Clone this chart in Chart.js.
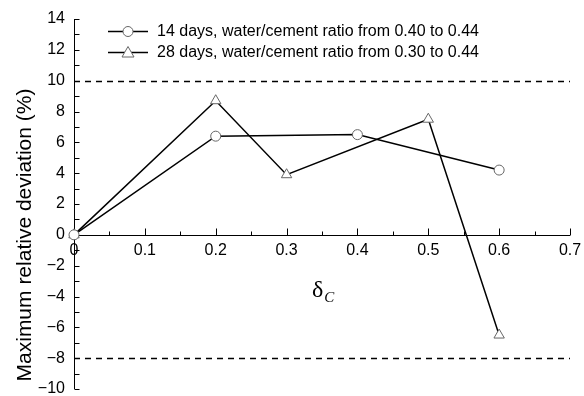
<!DOCTYPE html>
<html>
<head>
<meta charset="utf-8">
<script src="https://cdn.jsdelivr.net/npm/chart.js@4/dist/chart.umd.min.js"></script>
<style>
  html, body { margin: 0; padding: 0; background: #fff; }
  #wrap { width: 584px; height: 396px; }
</style>
</head>
<body>
<div id="wrap"><canvas id="c" width="584" height="396"></canvas></div>
<script>
// Relative deviation vs. delta_C for two curing ages
const series14Label = '14 days, water/cement ratio from 0.40 to 0.44';
const series14X = [0, 0.2, 0.4, 0.6];
const series14Y = [0, 6.4, 6.5, 4.2];

const series28Label = '28 days, water/cement ratio from 0.30 to 0.44';
const series28X = [0, 0.2, 0.3, 0.5, 0.6];
const series28Y = [0, 8.7, 3.9, 7.5, -6.5];

// Allowed deviation limits (dashed reference lines)
const limitValues = [10, -8];

const yTitle = 'Maximum relative deviation (%)';
const FONT = '"Liberation Sans", Arial, sans-serif';
const SERIF = '"Liberation Serif", "Times New Roman", serif';

const toPoints = (xs, ys) => xs.map((x, i) => ({ x: x, y: ys[i] }));

// Axes keep no extra margins; the plot box is set by layout padding
function noPadding(s) {
  s.paddingLeft = 0;
  s.paddingRight = 0;
  s.paddingTop = 0;
  s.paddingBottom = 0;
}

// Axes with inward ticks, x-axis through y = 0, limit lines, titles, legend
const decor = {
  id: 'decor',
  beforeDatasetsDraw(chart) {
    const { ctx, chartArea: a, scales: { x, y } } = chart;
    ctx.save();
    ctx.strokeStyle = '#000';
    ctx.lineWidth = 1.5;
    ctx.setLineDash([6, 5]);
    limitValues.forEach(v => {
      const py = Math.round(y.getPixelForValue(v)) + 0.5;
      ctx.beginPath();
      ctx.moveTo(a.left, py);
      ctx.lineTo(a.right, py);
      ctx.stroke();
    });
    ctx.setLineDash([]);

    // left axis
    ctx.lineWidth = 1;
    const lx = Math.round(a.left) + 0.5;
    ctx.beginPath();
    ctx.moveTo(lx, a.top);
    ctx.lineTo(lx, a.bottom);
    for (let v = y.min; v <= y.max; v += 1) {
      const py = Math.round(y.getPixelForValue(v)) + 0.5;
      ctx.moveTo(lx, py);
      ctx.lineTo(lx + 5, py);
    }
    ctx.stroke();

    // horizontal axis at zero
    const zy = Math.round(y.getPixelForValue(0)) + 0.5;
    ctx.beginPath();
    ctx.moveTo(a.left, zy);
    ctx.lineTo(a.right, zy);
    for (let i = 0; i <= 14; i++) {
      const px = Math.round(x.getPixelForValue(i * 0.05)) + 0.5;
      ctx.moveTo(px, zy);
      ctx.lineTo(px, zy - (i % 2 === 0 ? 7 : 4));
    }
    ctx.stroke();

    // y title
    ctx.fillStyle = '#000';
    ctx.font = '21px ' + FONT;
    ctx.textAlign = 'center';
    ctx.textBaseline = 'middle';
    ctx.save();
    ctx.translate(25, 235);
    ctx.rotate(-Math.PI / 2);
    ctx.fillText(yTitle, 0, 0);
    ctx.restore();

    // x title: delta with italic subscript C
    ctx.textAlign = 'left';
    ctx.textBaseline = 'alphabetic';
    ctx.font = '24px ' + SERIF;
    ctx.fillText('\u03b4', 312, 297);
    const dw = ctx.measureText('\u03b4').width;
    ctx.font = 'italic 15px ' + SERIF;
    ctx.fillText('C', 312 + dw + 1, 302);
    ctx.restore();
  },
  afterDraw(chart) {
    const { ctx } = chart;
    ctx.save();
    const rows = [31, 52];
    chart.data.datasets.forEach((ds, i) => {
      const yy = rows[i] + 0.5;
      ctx.strokeStyle = '#000';
      ctx.lineWidth = 1.5;
      ctx.beginPath();
      ctx.moveTo(108, yy);
      ctx.lineTo(148, yy);
      ctx.stroke();
      ctx.fillStyle = '#fff';
      ctx.strokeStyle = ds.pointBorderColor;
      ctx.lineWidth = 1;
      ctx.beginPath();
      if (ds.pointStyle === 'circle') {
        ctx.arc(128, yy, 5, 0, Math.PI * 2);
      } else {
        ctx.moveTo(128, yy - 6);
        ctx.lineTo(134, yy + 4.5);
        ctx.lineTo(122, yy + 4.5);
        ctx.closePath();
      }
      ctx.fill();
      ctx.stroke();
      ctx.fillStyle = '#000';
      ctx.font = '16px ' + FONT;
      ctx.textBaseline = 'middle';
      ctx.textAlign = 'left';
      ctx.fillText(ds.label, 157, yy);
    });
    ctx.restore();
  }
};

new Chart(document.getElementById('c'), {
  type: 'line',
  data: {
    datasets: [
      {
        label: series14Label,
        data: toPoints(series14X, series14Y),
        borderColor: '#000',
        borderWidth: 1.5,
        pointStyle: 'circle',
        pointRadius: 5,
        pointBorderWidth: 1,
        pointBorderColor: '#666',
        pointBackgroundColor: '#fff',
        tension: 0,
        clip: false
      },
      {
        label: series28Label,
        data: toPoints(series28X, series28Y),
        borderColor: '#000',
        borderWidth: 1.5,
        pointStyle: 'triangle',
        pointRadius: 6,
        pointBorderWidth: 1,
        pointBorderColor: '#666',
        pointBackgroundColor: '#fff',
        tension: 0,
        clip: false
      }
    ]
  },
  options: {
    responsive: false,
    animation: false,
    layout: { padding: { top: 19, right: 14, bottom: 5, left: 0 } },
    plugins: { legend: { display: false }, tooltip: { enabled: false } },
    scales: {
      x: {
        type: 'linear',
        position: { y: 0 },
        min: 0,
        max: 0.7,
        grid: { display: false, drawTicks: false },
        border: { display: false },
        afterFit: s => { s.height = 0; noPadding(s); },
        ticks: {
          stepSize: 0.1,
          padding: 6,
          color: '#000',
          font: { family: FONT, size: 16 },
          maxRotation: 0,
          callback: v => (Math.abs(v) < 1e-9 ? '0' : Number(v).toFixed(1))
        }
      },
      y: {
        type: 'linear',
        min: -10,
        max: 14,
        grid: { display: false, drawTicks: false },
        border: { display: false },
        afterFit: s => { s.width = 74; noPadding(s); },
        ticks: {
          stepSize: 2,
          padding: 9,
          color: '#000',
          font: { family: FONT, size: 16 },
          callback: v => (v < 0 ? '\u2212' + Math.abs(v) : String(v))
        }
      }
    }
  },
  plugins: [decor]
});
</script>
</body>
</html>
